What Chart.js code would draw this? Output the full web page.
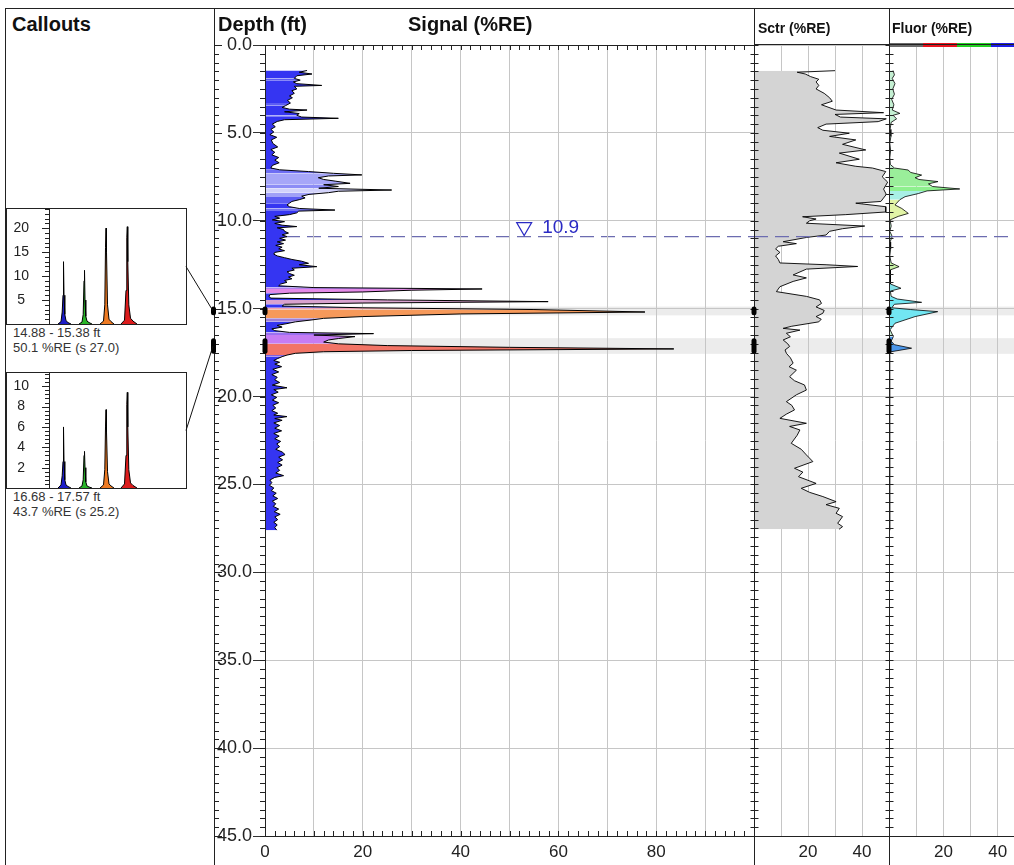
<!DOCTYPE html>
<html>
<head>
<meta charset="utf-8">
<title>LIF log</title>
<script src="https://cdn.jsdelivr.net/npm/chart.js@4.4.1/dist/chart.umd.min.js"></script>
<style>
  body { margin: 0; width: 1014px; height: 865px; overflow: hidden; background: #fff; position: relative;
         font-family: "Liberation Sans", Arial, sans-serif; color: #111; }
  canvas { position: absolute; }
  .ln { position: absolute; background: #222; z-index: 2; }
  .hd { position: absolute; font-weight: bold; white-space: nowrap; line-height: 1; z-index: 2; }
  .big { font-size: 20px; top: 14px; }
  .small { font-size: 14px; top: 21px; }
  .box { position: absolute; border: 1px solid #222; box-sizing: border-box; z-index: 2; }
  .cap { position: absolute; left: 13px; font-size: 13px; line-height: 14.5px; color: #333; white-space: nowrap; }
  #ov { z-index: 3; }
</style>
</head>
<body>
<canvas id="sig" width="540" height="865" style="left:214px;top:0"></canvas>
<canvas id="sctr" width="145" height="865" style="left:744px;top:0"></canvas>
<canvas id="fluor" width="146" height="865" style="left:879px;top:0"></canvas>
<canvas id="cw1" width="180" height="116" style="left:6px;top:208px"></canvas>
<canvas id="cw2" width="180" height="116" style="left:6px;top:372px"></canvas>
<canvas id="ov" width="1014" height="865" style="left:0;top:0"></canvas>

<div class="ln" style="left:5px;top:8px;width:1009px;height:1px"></div>
<div class="ln" style="left:5px;top:8px;width:1px;height:857px"></div>
<div class="ln" style="left:214px;top:8px;width:1px;height:857px"></div>
<div class="ln" style="left:754px;top:8px;width:1px;height:857px"></div>
<div class="ln" style="left:889px;top:8px;width:1px;height:857px"></div>
<div class="ln" style="left:754px;top:44px;width:260px;height:1px"></div>

<div class="hd big" style="left:12px">Callouts</div>
<div class="hd big" style="left:218px">Depth (ft)</div>
<div class="hd big" style="left:408px">Signal (%RE)</div>
<div class="hd small" style="left:758px">Sctr (%RE)</div>
<div class="hd small" style="left:892px">Fluor (%RE)</div>

<div class="box" id="b1" style="left:6px;top:208px;width:181px;height:117px"></div>
<div class="box" id="b2" style="left:6px;top:372px;width:181px;height:117px"></div>
<div class="cap" id="t1" style="top:326px"></div>
<div class="cap" id="t2" style="top:490px"></div>

<script>
// ========== DATOS ==========
// Señal (%RE) por profundidad (ft)
const sigDepth = [
  1.45, 1.55, 1.65, 1.75, 1.9, 2.0, 2.1, 2.2, 2.3, 2.35,
  2.5, 2.6, 2.75, 2.9, 3.0, 3.15, 3.3, 3.45, 3.55, 3.65,
  3.7, 3.8, 3.9, 4.0, 4.1, 4.17, 4.25, 4.35, 4.5, 4.65,
  4.8, 4.95, 5.1, 5.25, 5.4, 5.6, 5.8, 5.95, 6.1, 6.25,
  6.4, 6.55, 6.7, 6.85, 7.0, 7.1, 7.2, 7.3, 7.39, 7.45,
  7.55, 7.65, 7.75, 7.87, 7.95, 8.05, 8.15, 8.25, 8.32, 8.4,
  8.5, 8.6, 8.7, 8.8, 8.9, 9.0, 9.1, 9.2, 9.3, 9.39,
  9.45, 9.55, 9.65, 9.75, 9.85, 9.95, 10.05, 10.15, 10.25, 10.33,
  10.4, 10.5, 10.6, 10.7, 10.8, 10.9, 11.0, 11.1, 11.2, 11.3,
  11.4, 11.5, 11.6, 11.7, 11.8, 11.9, 12.0, 12.1, 12.2, 12.3,
  12.42, 12.5, 12.61, 12.7, 12.8, 12.9, 13.0, 13.1, 13.2, 13.3,
  13.4, 13.5, 13.6, 13.7, 13.8, 13.88, 13.95, 14.05, 14.12, 14.2,
  14.3, 14.4, 14.5, 14.6, 14.68, 14.75, 14.85, 14.95, 15.05, 15.19,
  15.3, 15.45, 15.55, 15.64, 15.75, 15.85, 15.95, 16.05, 16.15, 16.25,
  16.35, 16.42, 16.5, 16.59, 16.7, 16.78, 16.9, 17.0, 17.1, 17.2,
  17.29, 17.38, 17.45, 17.54, 17.64, 17.73, 17.85, 17.95, 18.05, 18.15,
  18.3, 18.45, 18.6, 18.75, 18.9, 19.05, 19.2, 19.35, 19.5, 19.6,
  19.75, 19.9, 20.05, 20.2, 20.35, 20.5, 20.65, 20.8, 20.95, 21.05,
  21.14, 21.25, 21.35, 21.5, 21.65, 21.8, 21.95, 22.1, 22.25, 22.4,
  22.55, 22.7, 22.85, 23.0, 23.15, 23.3, 23.45, 23.6, 23.75, 23.9,
  24.05, 24.2, 24.35, 24.5, 24.6, 24.75, 24.9, 25.05, 25.2, 25.35,
  25.5, 25.65, 25.8, 25.95, 26.1, 26.25, 26.4, 26.55, 26.7, 26.85,
  27.0, 27.15, 27.3, 27.45, 27.6
];
const sigValue = [
  8.6, 7.0, 9.6, 6.5, 6.0, 7.2, 5.8, 6.5, 11.6, 6.0,
  6.5, 5.5, 6.0, 5.0, 5.6, 4.6, 5.2, 4.2, 3.5, 5.0,
  8.6, 4.0, 7.0, 6.5, 7.5, 15.0, 4.0, 2.5, 1.5, 2.1,
  1.2, 1.8, 1.0, 2.4, 1.3, 1.6, 2.6, 1.2, 2.0, 1.4,
  2.8, 2.0, 2.9, 1.5, 1.2, 3.0, 8.9, 14.0, 19.8, 13.0,
  10.9, 12.0, 14.5, 17.4, 12.0, 15.0, 11.0, 25.9, 15.0, 13.0,
  9.0, 7.5, 8.2, 7.0, 5.5, 5.0, 4.5, 5.0, 7.0, 14.3,
  6.9, 6.5, 5.0, 2.0, 3.0, 1.5, 4.0, 2.0, 3.5, 6.5,
  2.5, 3.8, 4.0, 4.8, 3.5, 4.5, 3.0, 4.2, 2.5, 3.8,
  2.2, 3.5, 2.8, 4.0, 2.0, 1.8, 2.5, 4.0, 5.5, 7.5,
  8.9, 7.0, 10.6, 5.5, 6.0, 4.5, 5.0, 6.0, 4.8, 5.5,
  4.0, 4.5, 3.2, 2.8, 10.0, 44.4, 30.0, 20.0, 5.0, 1.0,
  0.8, 1.2, 25.0, 57.9, 20.0, 4.0, 3.5, 20.0, 55.0, 77.7,
  40.0, 20.0, 12.0, 9.6, 6.2, 4.5, 2.5, 3.5, 1.4, 2.0,
  5.0, 22.2, 10.0, 18.4, 15.0, 13.0, 12.0, 15.0, 25.0, 50.0,
  83.6, 30.0, 12.0, 6.2, 4.5, 3.5, 2.5, 1.8, 3.0, 2.0,
  3.4, 1.6, 2.8, 1.4, 2.5, 2.0, 3.0, 1.5, 4.5, 1.8,
  2.7, 1.3, 2.4, 1.5, 2.8, 1.6, 2.2, 1.4, 2.6, 1.8,
  4.5, 2.0, 3.5, 1.8, 3.0, 2.0, 3.4, 1.8, 2.9, 2.0,
  3.2, 2.4, 3.0, 2.2, 3.5, 4.1, 2.8, 3.6, 2.6, 3.5,
  2.5, 3.0, 2.2, 3.8, 2.0, 1.0, 1.4, 0.9, 1.8, 1.3,
  2.3, 1.6, 2.6, 1.5, 2.2, 1.7, 2.8, 1.9, 3.1, 2.0,
  2.6, 1.8, 2.5, 2.0, 2.4
];

// Dispersión (Sctr, %RE)
const sctrDepth = [
  1.46, 1.55, 1.65, 1.8, 1.95, 2.1, 2.3, 2.5, 2.75, 3.0,
  3.2, 3.4, 3.7, 3.85, 3.95, 4.1, 4.2, 4.36, 4.5, 4.7,
  4.85, 5.02, 5.2, 5.4, 5.65, 5.97, 6.15, 6.5, 6.7, 6.9,
  7.0, 7.2, 7.5, 7.8, 8.2, 8.5, 8.9, 9.0, 9.2, 9.5,
  9.65, 9.77, 9.9, 10.0, 10.14, 10.3, 10.45, 10.6, 10.81, 10.95,
  11.19, 11.3, 11.45, 11.6, 11.8, 12.0, 12.2, 12.4, 12.5, 12.6,
  12.75, 13.08, 13.25, 13.45, 13.75, 14.03, 14.3, 14.5, 14.7, 14.9,
  15.1, 15.26, 15.45, 15.6, 15.75, 16.0, 16.12, 16.22, 16.4, 16.6,
  16.78, 17.0, 17.15, 17.35, 17.54, 17.8, 18.1, 18.3, 18.5, 18.87,
  19.1, 19.34, 19.63, 19.9, 20.29, 20.5, 20.76, 21.0, 21.24, 21.52,
  21.7, 21.9, 22.2, 22.66, 23.0, 23.32, 23.7, 24.08, 24.3, 24.56,
  24.94, 25.22, 25.45, 25.69, 25.98, 26.15, 26.36, 26.64, 26.83, 27.21,
  27.4, 27.55
];
const sctrValue = [
  30, 16, 19, 21, 24, 23, 24, 23, 26, 28,
  29, 25, 30.4, 48, 30, 32, 49, 46, 26.7, 23.6,
  25.5, 35.3, 28, 37.7, 32.8, 41.4, 31.6, 39, 30.4, 37.7,
  43.9, 48.8, 47.5, 49.5, 48, 49, 47, 37.7, 48.8, 48.8,
  34, 18, 23, 20.6, 19.4, 41, 32.8, 28, 26.7, 19.4,
  10.8, 15.7, 9, 8, 9.6, 8, 9, 9.6, 26.7, 38.4,
  19.4, 14.5, 19.4, 14.5, 9.6, 8.3, 19.4, 24.3, 25, 23,
  26, 25.5, 23, 24.9, 24, 14, 10.8, 17, 12, 13.5,
  10.8, 12.5, 13.2, 11.5, 12, 13.5, 14.5, 13, 15.7, 13.2,
  15, 18.7, 19.4, 15.7, 12, 14, 15, 12, 9.6, 19.4,
  13.2, 17, 16, 13.8, 17.5, 19.4, 21.8, 15, 18.1, 16.5,
  23, 17.5, 20.6, 25.5, 30.4, 26.7, 31.6, 30.4, 32.8, 31,
  32.8, 31.5
];

// Fluorescencia (%RE)
const fluorDepth = [
  1.45, 1.7, 1.9, 2.2, 2.5, 2.8, 3.1, 3.4, 3.7, 3.89,
  4.0, 4.2, 4.4, 4.8, 5.2, 5.6, 6.0, 6.4, 6.8, 7.0,
  7.11, 7.25, 7.4, 7.55, 7.65, 7.77, 7.9, 8.05, 8.19, 8.3,
  8.45, 8.63, 8.8, 9.1, 9.3, 9.45, 9.58, 9.75, 9.95, 10.3,
  10.6, 10.9, 11.2, 11.6, 12.0, 12.4, 12.61, 12.8, 13.2, 13.6,
  13.84, 14.0, 14.3, 14.45, 14.64, 14.75, 14.95, 15.05, 15.17, 15.45,
  15.83, 16.2, 16.59, 16.85, 17.05, 17.25, 17.45, 17.6, 20.0, 23.0,
  25.0, 27.6
];
const fluorValue = [
  1.5, 2.0, 1.2, 2.2, 1.4, 2.0, 1.0, 1.8, 1.2, 4.0,
  1.5, 2.8, 0.8, 0.4, 0.7, 0.3, 0.6, 0.3, 0.5, 2.0,
  7.0, 8.0, 12.0, 9.6, 11.0, 18.0, 14.5, 16.0, 26.0, 14.0,
  10.8, 5.9, 4.0, 2.2, 4.7, 6.0, 7.1, 3.4, 0.4, 0.8,
  0.3, 1.2, 0.4, 0.6, 0.3, 0.8, 3.7, 0.4, 0.5, 0.6,
  4.4, 0.5, 0.8, 3.0, 12.0, 2.0, 1.0, 8.0, 17.9, 9.6,
  2.2, 0.4, 1.6, 0.8, 2.0, 8.3, 0.8, 0.2, 0.3, 0.2,
  0.3, 0.2
];

// Ejes
const depthTicks = [0, 5, 10, 15, 20, 25, 30, 35, 40, 45];
const signalTickLabels = [0, 20, 40, 60, 80];
const panelTickLabels = [20, 40];
const waterLevel = 10.9;

// Callouts (intervalos de profundidad y resumen)
const calloutTop = [14.88, 16.68];
const calloutBottom = [15.38, 17.57];
const calloutPct = [50.1, 43.7];
const calloutS = [27.0, 25.2];
const callout1Ticks = [5, 10, 15, 20];
const callout2Ticks = [2, 4, 6, 8, 10];

// Formas de onda (tiempo relativo, amplitud)
const wfBlueT = [9, 12, 13.2, 14.0, 14.5, 15.0, 15.8, 17, 19, 22];
const wfGreenT = [30, 33, 34.2, 35.0, 35.5, 36.0, 36.8, 38, 40, 43];
const wfOrangeT = [51, 54.5, 55.8, 56.5, 57.0, 57.5, 58.5, 60, 62, 65];
const wfRedT = [72, 75.5, 77, 77.8, 78.3, 78.8, 79.8, 81.5, 84, 88];
const c1Blue = [0, 0.5, 2.5, 6.0, 13.0, 6.0, 2.0, 0.7, 0.3, 0];
const c1Green = [0, 0.4, 2.0, 9.0, 11.2, 5.0, 1.6, 0.6, 0.3, 0];
const c1Orange = [0, 0.6, 4.0, 16.0, 20.0, 15.0, 4.0, 1.0, 0.5, 0];
const c1Red = [0, 0.8, 7.0, 18.0, 20.3, 13.0, 4.0, 1.2, 0.6, 0];
const c2Blue = [0, 0.3, 1.2, 2.6, 6.0, 2.6, 0.8, 0.3, 0.15, 0];
const c2Green = [0, 0.2, 0.8, 3.2, 3.6, 2.0, 0.6, 0.2, 0.1, 0];
const c2Orange = [0, 0.3, 1.8, 6.0, 7.7, 5.5, 1.6, 0.4, 0.2, 0];
const c2Red = [0, 0.4, 3.2, 8.2, 9.4, 6.0, 1.8, 0.5, 0.25, 0];

// ========== ESTILOS ==========
const GRID = '#c6c6c6';
const AXIS = '#222';
const BAND = '#ececec';
const WATER = '#6c6cb0';
const WATER_TXT = '#2a2ac4';
const SIG_BLUE = '#3535f2';
const waterLabelAt = 53;
const sigZones = [
  [1.85, 2.0, '#5c5cf4'], [3.3, 3.45, '#5c5cf4'], [3.95, 4.1, '#8080f6'],
  [7.1, 7.3, '#6e6ef4'], [7.3, 7.9, '#a6a6f8'], [7.9, 8.1, '#8c8cf6'],
  [8.1, 8.35, '#d2d2fb'], [8.35, 8.6, '#a0a0f7'], [8.6, 9.0, '#5c5cf3'],
  [9.3, 9.45, '#7272f4'], [13.75, 13.85, '#b282ee'], [13.85, 14.1, '#e48ae8'],
  [14.45, 14.72, '#d9a2cf'], [14.9, 15.0, '#f2a2b2'], [15.0, 15.55, '#f6995a'],
  [15.55, 15.7, '#9d80d8'], [16.35, 16.5, '#9a70f0'], [16.5, 16.95, '#c67cf3'],
  [16.95, 17.55, '#f27466'], [17.55, 17.7, '#8062e0']
];
const FLUOR_BASE = '#c4efd2';
const fluorZones = [
  [6.9, 7.95, '#9aee9a'], [7.95, 8.3, '#8ef08e'], [8.3, 8.65, '#a8f0e6'],
  [8.65, 9.95, '#e2f4a6'], [12.4, 12.8, '#c6f0a6'], [13.6, 14.0, '#7fe0e8'],
  [14.3, 15.9, '#72e6f2'], [16.3, 17.6, '#4b96ea']
];
const fluorBarColors = ['#6a6a6a', '#e8141e', '#22d022', '#1e1ee8'];
const wfColors = ['#1c1cc8', '#28b428', '#ee7a22', '#dc1c1c'];

Chart.defaults.font.family = '"Liberation Sans", Arial, sans-serif';
Chart.defaults.color = '#222';

function zoneColor(zones, d, def) {
  const z = zones.find(z => d >= z[0] && d < z[1]);
  return z ? z[2] : def;
}

function fixBox(w, h) {
  return function (scale) {
    if (w !== null) scale.width = w;
    if (h !== null) scale.height = h;
    scale.paddingTop = scale.paddingBottom = scale.paddingLeft = scale.paddingRight = 0;
  };
}

function drawWater(ctx, x0, x1, y) {
  ctx.save();
  ctx.strokeStyle = WATER;
  ctx.lineWidth = 1.3;
  ctx.setLineDash([14, 7]);
  ctx.beginPath();
  ctx.moveTo(x0, y);
  ctx.lineTo(x1, y);
  ctx.stroke();
  ctx.restore();
}

function drawBands(chart) {
  const { ctx, chartArea: a, scales: { y } } = chart;
  ctx.save();
  ctx.fillStyle = BAND;
  calloutTop.forEach((t, i) => {
    const y0 = y.getPixelForValue(t), y1 = y.getPixelForValue(calloutBottom[i]);
    ctx.fillRect(a.left, y0, a.right - a.left, y1 - y0);
  });
  ctx.restore();
}

const baseOpts = {
  responsive: false,
  animation: false,
  events: [],
  plugins: { legend: { display: false }, tooltip: { enabled: false } }
};

// ========== PANEL SEÑAL ==========
const sigDecor = {
  id: 'sigDecor',
  beforeDraw(chart) {
    drawBands(chart);
    const { chartArea: a, scales: { y } } = chart;
    drawWater(chart.ctx, a.left, a.right, y.getPixelForValue(waterLevel));
  },
  afterDraw(chart) {
    const { ctx, chartArea: a, scales: { x, y } } = chart;
    ctx.save();
    ctx.strokeStyle = AXIS;
    ctx.lineWidth = 1;
    ctx.beginPath();
    ctx.moveTo(a.left, Math.round(a.top) + 0.5); ctx.lineTo(a.right, Math.round(a.top) + 0.5);
    ctx.moveTo(Math.round(a.left) + 0.5, a.top); ctx.lineTo(Math.round(a.left) + 0.5, a.bottom);
    for (let v = 0; v <= 100; v += 2) {
      const px = Math.round(x.getPixelForValue(v)) + 0.5;
      ctx.moveTo(px, a.top); ctx.lineTo(px, a.top + 5);
      ctx.moveTo(px, a.bottom); ctx.lineTo(px, a.bottom - 5);
    }
    for (let d = 0; d <= 45; d += 0.5) {
      const py = Math.round(y.getPixelForValue(d)) + 0.5;
      ctx.moveTo(a.left - 5, py); ctx.lineTo(a.left, py);
      ctx.moveTo(0, py); ctx.lineTo(d % 5 === 0 ? 8 : 5, py);
    }
    ctx.stroke();

    // nivel freático
    const wy = y.getPixelForValue(waterLevel);
    const cx = x.getPixelForValue(waterLabelAt);
    ctx.strokeStyle = WATER_TXT;
    ctx.lineWidth = 1.2;
    ctx.beginPath();
    ctx.moveTo(cx - 7.5, wy - 14); ctx.lineTo(cx + 7.5, wy - 14); ctx.lineTo(cx, wy - 1); ctx.closePath();
    ctx.stroke();
    ctx.fillStyle = WATER_TXT;
    ctx.font = '19px "Liberation Sans", Arial, sans-serif';
    ctx.textBaseline = 'alphabetic';
    ctx.fillText(waterLevel.toFixed(1), cx + 18, wy - 4);
    ctx.restore();
  }
};

const sigChart = new Chart(document.getElementById('sig'), {
  type: 'line',
  data: {
    datasets: [{
      data: sigDepth.map((d, i) => ({ x: sigValue[i], y: d })),
      borderColor: '#000',
      borderWidth: 1,
      pointRadius: 0,
      fill: 'origin',
      backgroundColor: SIG_BLUE,
      segment: { backgroundColor: c => zoneColor(sigZones, sigDepth[c.p0DataIndex], SIG_BLUE) }
    }]
  },
  options: {
    ...baseOpts,
    indexAxis: 'y',
    layout: { padding: { top: 45, left: 0, right: 0, bottom: 0 } },
    scales: {
      x: {
        type: 'linear', min: 0, max: 100, position: 'bottom',
        ticks: { stepSize: 10, autoSkip: false, maxRotation: 0, padding: 6, font: { size: 17 },
                 callback: v => signalTickLabels.includes(v) ? String(v) : '' },
        grid: { color: GRID, drawTicks: false },
        border: { display: true, color: AXIS },
        afterFit: fixBox(null, 29)
      },
      y: {
        type: 'linear', min: 0, max: 45, reverse: true, position: 'left',
        afterBuildTicks: s => { s.ticks = depthTicks.map(v => ({ value: v })); },
        ticks: { autoSkip: false, padding: 1, font: { size: 18 }, callback: v => Number(v).toFixed(1) },
        grid: { color: GRID, tickLength: 12, tickColor: '#333' },
        border: { display: false },
        afterFit: fixBox(51, null)
      }
    }
  },
  plugins: [sigDecor]
});

// ========== PANELES SCTR / FLUOR ==========
function panelDecor(withBar) {
  return {
    id: 'panelDecor',
    beforeDraw(chart) { drawBands(chart); },
    afterDatasetsDraw(chart) {
      const { chartArea: a, scales: { y } } = chart;
      drawWater(chart.ctx, a.left, a.right, y.getPixelForValue(waterLevel));
    },
    afterDraw(chart) {
      const { ctx, chartArea: a, scales: { x, y } } = chart;
      ctx.save();
      ctx.strokeStyle = AXIS;
      ctx.lineWidth = 1;
      ctx.beginPath();
      const lx = Math.round(a.left) + 0.5;
      for (let d = 0; d <= 45; d += 0.5) {
        const py = Math.round(y.getPixelForValue(d)) + 0.5;
        ctx.moveTo(lx - 4, py); ctx.lineTo(lx + 4, py);
      }
      ctx.stroke();
      if (withBar) {
        fluorBarColors.forEach((c, i) => {
          const x0 = x.getPixelForValue(i * 12.5), x1 = x.getPixelForValue((i + 1) * 12.5);
          ctx.fillStyle = c;
          ctx.fillRect(x0, 43, x1 - x0, 4);
        });
      }
      ctx.restore();
    }
  };
}

function panelOptions() {
  return {
    ...baseOpts,
    indexAxis: 'y',
    layout: { padding: { top: 45, left: 10, right: 0, bottom: 0 } },
    scales: {
      x: {
        type: 'linear', min: 0, max: 50, position: 'bottom',
        ticks: { stepSize: 10, autoSkip: false, maxRotation: 0, padding: 6, font: { size: 17 },
                 callback: v => panelTickLabels.includes(v) ? String(v) : '' },
        grid: { color: GRID, drawTicks: false },
        border: { display: true, color: AXIS },
        afterFit: fixBox(null, 29)
      },
      y: {
        type: 'linear', min: 0, max: 45, reverse: true, position: 'left',
        afterBuildTicks: s => { s.ticks = depthTicks.map(v => ({ value: v })); },
        ticks: { display: false },
        grid: { color: GRID, drawTicks: false },
        border: { display: false },
        afterFit: fixBox(0, null)
      }
    }
  };
}

const sctrChart = new Chart(document.getElementById('sctr'), {
  type: 'line',
  data: {
    datasets: [{
      data: sctrDepth.map((d, i) => ({ x: sctrValue[i], y: d })),
      borderColor: '#000', borderWidth: 0.9, pointRadius: 0,
      fill: 'origin', backgroundColor: '#d4d4d4'
    }]
  },
  options: panelOptions(),
  plugins: [panelDecor(false)]
});

const fluorChart = new Chart(document.getElementById('fluor'), {
  type: 'line',
  data: {
    datasets: [{
      data: fluorDepth.map((d, i) => ({ x: fluorValue[i], y: d })),
      borderColor: '#000', borderWidth: 0.8, pointRadius: 0,
      fill: 'origin', backgroundColor: FLUOR_BASE,
      segment: { backgroundColor: c => zoneColor(fluorZones, fluorDepth[c.p0DataIndex], FLUOR_BASE) }
    }]
  },
  options: panelOptions(),
  plugins: [panelDecor(true)]
});

// ========== CALLOUTS (formas de onda) ==========
function calloutChart(id, yMax, ticks, minorStep, series) {
  const times = [wfBlueT, wfGreenT, wfOrangeT, wfRedT];
  return new Chart(document.getElementById(id), {
    type: 'line',
    data: {
      datasets: series.map((vals, k) => ({
        data: times[k].map((t, i) => ({ x: t, y: vals[i] })),
        borderColor: '#000', borderWidth: 1, pointRadius: 0,
        fill: 'origin', backgroundColor: wfColors[k]
      }))
    },
    options: {
      ...baseOpts,
      layout: { padding: 0 },
      scales: {
        x: { type: 'linear', min: 0, max: 137, display: false },
        y: {
          type: 'linear', min: 0, max: yMax,
          afterBuildTicks: s => { s.ticks = ticks.map(v => ({ value: v })); },
          ticks: { padding: 20, crossAlign: 'center', font: { size: 14 } },
          grid: { display: false, drawTicks: false },
          border: { display: true, color: AXIS },
          afterFit: fixBox(43, null)
        }
      }
    },
    plugins: [{
      id: 'wfTicks',
      afterDraw(chart) {
        const { ctx, chartArea: a, scales: { y } } = chart;
        ctx.save();
        ctx.strokeStyle = AXIS;
        ctx.beginPath();
        for (let v = 0; v <= yMax; v += minorStep) {
          const py = Math.round(y.getPixelForValue(v)) + 0.5;
          ctx.moveTo(a.left - 4, py); ctx.lineTo(a.left, py);
        }
        ticks.forEach(v => {
          const py = Math.round(y.getPixelForValue(v)) + 0.5;
          ctx.moveTo(a.left - 7, py); ctx.lineTo(a.left, py);
        });
        ctx.stroke();
        ctx.restore();
      }
    }]
  });
}

calloutChart('cw1', 24.2, callout1Ticks, 1, [c1Blue, c1Green, c1Orange, c1Red]);
calloutChart('cw2', 11.4, callout2Ticks, 0.4, [c2Blue, c2Green, c2Orange, c2Red]);

document.getElementById('t1').innerHTML =
  `${calloutTop[0].toFixed(2)} - ${calloutBottom[0].toFixed(2)} ft<br>${calloutPct[0].toFixed(1)} %RE (s ${calloutS[0].toFixed(1)})`;
document.getElementById('t2').innerHTML =
  `${calloutTop[1].toFixed(2)} - ${calloutBottom[1].toFixed(2)} ft<br>${calloutPct[1].toFixed(1)} %RE (s ${calloutS[1].toFixed(1)})`;

// ========== CONECTORES Y MARCAS ==========
const ov = document.getElementById('ov').getContext('2d');
const yScale = sigChart.scales.y;
const markX = [213.5, 214 + sigChart.chartArea.left, 744 + sctrChart.chartArea.left, 879 + fluorChart.chartArea.left];
ov.fillStyle = '#000';
ov.strokeStyle = '#111';
ov.lineWidth = 1;
['b1', 'b2'].forEach((id, i) => {
  const y0 = yScale.getPixelForValue(calloutTop[i]);
  const y1 = yScale.getPixelForValue(calloutBottom[i]);
  markX.forEach(mx => {
    ov.beginPath();
    if (ov.roundRect) ov.roundRect(mx - 2.5, y0, 5, y1 - y0, 2.5); else ov.rect(mx - 2.5, y0, 5, y1 - y0);
    ov.fill();
  });
  const b = document.getElementById(id);
  const bx = b.offsetLeft + b.offsetWidth - 1;
  const by = b.offsetTop + b.offsetHeight / 2;
  ov.beginPath();
  ov.moveTo(bx, by);
  ov.lineTo(213, (y0 + y1) / 2);
  ov.stroke();
});
</script>
</body>
</html>
